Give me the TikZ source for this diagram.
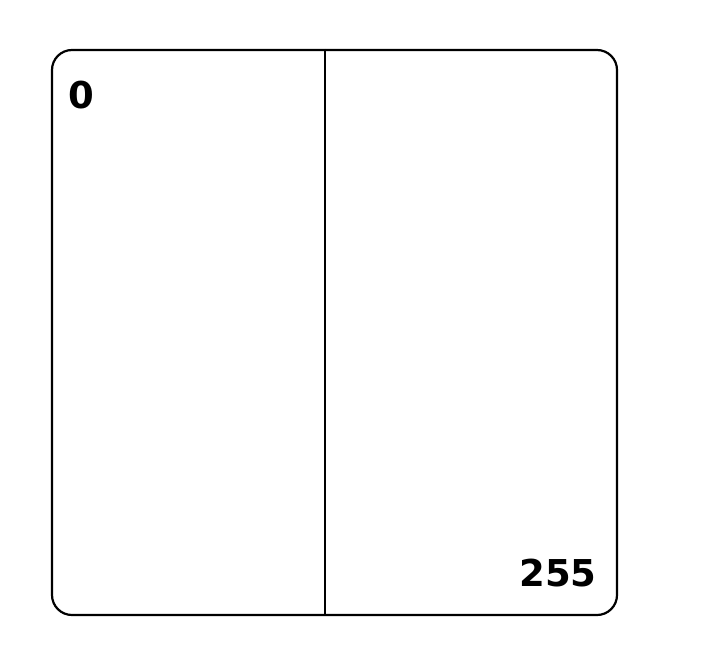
\documentclass[tikz,border=0pt]{standalone}
\usepackage{fontspec}
\setmainfont{DejaVu Sans}
\usepackage{tikz}
\usetikzlibrary{positioning, calc}

\begin{document}
\begin{tikzpicture}[
    x=1pt, y=-1pt,
    panel/.style={rectangle, draw, line width=2.2pt, minimum width=565pt, minimum height=565pt, rounded corners=20pt, inner sep=0pt},
    divider/.style={line width=2.5pt},
    value/.style={font=\fontsize{37}{40}\selectfont\bfseries, inner sep=0pt}
]
\useasboundingbox (0,0) rectangle (709,669);

% Panel
\node[panel] (box) at (334.5,332.5) {};
\coordinate (divtop) at ($(box.north west)!0.483!(box.north east)$);
\coordinate (divbot) at ($(box.south west)!0.483!(box.south east)$);
\draw[divider] (divtop) -- (divbot);

% Values
\node[value] (low) at (81,95) {0};
\node[value] (high) at (558,573) {255};

\end{tikzpicture}
\end{document}
